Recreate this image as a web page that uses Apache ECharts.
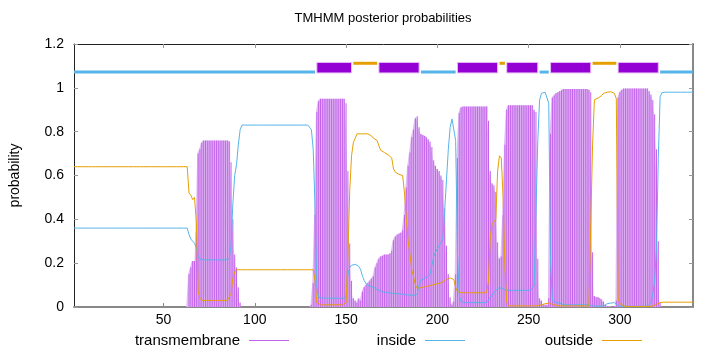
<!DOCTYPE html>
<html>
<head>
<meta charset="utf-8">
<title>TMHMM posterior probabilities</title>
<script src="https://cdn.jsdelivr.net/npm/echarts@6/dist/echarts.min.js"></script>
<style>
  html, body { margin: 0; padding: 0; background: #fff; }
  #chart { width: 720px; height: 352px; }
</style>
</head>
<body>
<div id="chart"></div>
<script>
// residue positions 1..340, one value per residue
var transmembrane = [
  0,0,0,0,0,0,0,0,0,0,
  0,0,0,0,0,0,0,0,0,0,
  0,0,0,0,0,0,0,0,0,0,
  0,0,0,0,0,0,0,0,0,0,
  0,0,0,0,0,0,0,0,0,0,
  0,0,0,0,0,0,0,0,0,0,
  0,0,0,0.15,0.18,0.21,0.21,0.34,0.70,0.72,
  0.75,0.76,0.76,0.76,0.76,0.76,0.76,0.76,0.76,0.76,
  0.76,0.76,0.76,0.76,0.76,0.755,0.66,0.40,0.24,0.18,
  0.09,0.02,0,0,0,0,0,0,0,0,
  0,0,0,0,0,0,0,0,0,0,
  0,0,0,0,0,0,0,0,0,0,
  0,0,0,0,0,0,0,0,0,0,
  0.01,0.11,0.42,0.89,0.94,0.95,0.95,0.95,0.95,0.95,
  0.95,0.95,0.95,0.95,0.95,0.95,0.95,0.95,0.95,0.93,
  0.62,0.29,0.12,0.04,0.03,0.02,0.04,0.03,0.07,0.09,
  0.10,0.11,0.12,0.13,0.14,0.18,0.20,0.22,0.23,0.235,
  0.24,0.24,0.24,0.245,0.255,0.305,0.32,0.33,0.335,0.34,
  0.35,0.42,0.545,0.645,0.705,0.775,0.81,0.86,0.87,0.82,
  0.79,0.785,0.78,0.775,0.765,0.755,0.73,0.67,0.645,0.63,
  0.62,0.60,0.58,0.45,0.28,0.15,0.045,0.01,0.025,0.15,
  0.68,0.885,0.91,0.915,0.915,0.915,0.915,0.915,0.915,0.915,
  0.915,0.915,0.915,0.915,0.915,0.915,0.915,0.85,0.62,0.565,
  0.555,0.525,0.295,0.22,0.23,0.42,0.74,0.90,0.92,0.92,
  0.92,0.92,0.92,0.92,0.92,0.92,0.92,0.92,0.92,0.92,
  0.92,0.92,0.90,0.89,0.22,0.04,0.03,0.01,0.01,0.01,
  0.04,0.79,0.955,0.965,0.975,0.98,0.985,0.99,0.995,0.995,
  0.995,0.995,0.995,0.995,0.995,0.995,0.995,0.995,0.995,0.995,
  0.995,0.995,0.99,0.98,0.25,0.05,0.045,0.045,0.04,0.035,
  0.025,0.01,0.005,0.003,0,0,0.005,0.03,0.955,0.98,
  0.99,0.997,0.997,0.997,0.997,0.997,0.997,0.997,0.997,0.997,
  0.997,0.997,0.997,0.997,0.997,0.985,0.97,0.945,0.88,0.72,
  0.30,0.02,0,0,0,0,0,0,0,0,
  0,0,0,0,0,0,0,0,0,0
];
var inside = [
  0.36,0.36,0.36,0.36,0.36,0.36,0.36,0.36,0.36,0.36,
  0.36,0.36,0.36,0.36,0.36,0.36,0.36,0.36,0.36,0.36,
  0.36,0.36,0.36,0.36,0.36,0.36,0.36,0.36,0.36,0.36,
  0.36,0.36,0.36,0.36,0.36,0.36,0.36,0.36,0.36,0.36,
  0.36,0.36,0.36,0.36,0.36,0.36,0.36,0.36,0.36,0.36,
  0.36,0.36,0.36,0.36,0.36,0.36,0.36,0.36,0.36,0.36,
  0.36,0.36,0.36,0.33,0.31,0.30,0.29,0.27,0.23,0.22,
  0.215,0.215,0.215,0.215,0.215,0.215,0.215,0.215,0.215,0.215,
  0.215,0.215,0.215,0.215,0.215,0.22,0.28,0.47,0.60,0.65,
  0.74,0.81,0.83,0.83,0.83,0.83,0.83,0.83,0.83,0.83,
  0.83,0.83,0.83,0.83,0.83,0.83,0.83,0.83,0.83,0.83,
  0.83,0.83,0.83,0.83,0.83,0.83,0.83,0.83,0.83,0.83,
  0.83,0.83,0.83,0.83,0.83,0.83,0.83,0.83,0.83,0.83,
  0.81,0.72,0.46,0.09,0.045,0.04,0.04,0.04,0.04,0.04,
  0.04,0.04,0.04,0.04,0.04,0.04,0.04,0.04,0.04,0.05,
  0.15,0.18,0.19,0.195,0.195,0.19,0.185,0.17,0.14,0.12,
  0.105,0.10,0.095,0.09,0.09,0.085,0.08,0.075,0.072,0.07,
  0.068,0.065,0.065,0.064,0.063,0.062,0.061,0.06,0.06,0.06,
  0.058,0.056,0.055,0.055,0.055,0.053,0.052,0.052,0.06,0.10,
  0.122,0.125,0.13,0.135,0.14,0.15,0.19,0.23,0.25,0.265,
  0.28,0.295,0.31,0.44,0.58,0.72,0.82,0.858,0.85,0.76,
  0.25,0.05,0.025,0.02,0.02,0.02,0.02,0.02,0.02,0.02,
  0.02,0.02,0.02,0.02,0.02,0.02,0.02,0.025,0.045,0.055,
  0.06,0.075,0.085,0.09,0.088,0.082,0.078,0.076,0.076,0.076,
  0.076,0.076,0.076,0.076,0.076,0.076,0.076,0.076,0.076,0.076,
  0.076,0.08,0.10,0.10,0.76,0.945,0.975,0.98,0.98,0.98,
  0.93,0.20,0.03,0.025,0.02,0.02,0.018,0.015,0.01,0.01,
  0.01,0.01,0.01,0.01,0.01,0.01,0.01,0.01,0.01,0.01,
  0.01,0.01,0.01,0.01,0.005,0.004,0.004,0.004,0.004,0.004,
  0.004,0.012,0.015,0.017,0.018,0.02,0.02,0.02,0.005,0.004,
  0.003,0.003,0.003,0.003,0.003,0.003,0.003,0.003,0.003,0.003,
  0.003,0.003,0.003,0.003,0.003,0.005,0.02,0.06,0.12,0.27,
  0.68,0.96,0.978,0.98,0.98,0.98,0.98,0.98,0.98,0.98,
  0.98,0.98,0.98,0.98,0.98,0.98,0.98,0.98,0.98,0.98
];
var outside = [
  0.64,0.64,0.64,0.64,0.64,0.64,0.64,0.64,0.64,0.64,
  0.64,0.64,0.64,0.64,0.64,0.64,0.64,0.64,0.64,0.64,
  0.64,0.64,0.64,0.64,0.64,0.64,0.64,0.64,0.64,0.64,
  0.64,0.64,0.64,0.64,0.64,0.64,0.64,0.64,0.64,0.64,
  0.64,0.64,0.64,0.64,0.64,0.64,0.64,0.64,0.64,0.64,
  0.64,0.64,0.64,0.64,0.64,0.64,0.64,0.64,0.64,0.64,
  0.64,0.64,0.64,0.52,0.51,0.49,0.50,0.39,0.07,0.04,
  0.03,0.03,0.03,0.03,0.03,0.03,0.03,0.03,0.03,0.03,
  0.03,0.03,0.03,0.03,0.03,0.03,0.06,0.13,0.16,0.17,
  0.17,0.17,0.17,0.17,0.17,0.17,0.17,0.17,0.17,0.17,
  0.17,0.17,0.17,0.17,0.17,0.17,0.17,0.17,0.17,0.17,
  0.17,0.17,0.17,0.17,0.17,0.17,0.17,0.17,0.17,0.17,
  0.17,0.17,0.17,0.17,0.17,0.17,0.17,0.17,0.17,0.17,
  0.17,0.17,0.12,0.02,0.015,0.01,0.01,0.01,0.01,0.01,
  0.01,0.01,0.01,0.01,0.01,0.01,0.01,0.01,0.01,0.02,
  0.23,0.53,0.69,0.75,0.77,0.79,0.79,0.79,0.79,0.79,
  0.79,0.79,0.785,0.78,0.77,0.77,0.76,0.735,0.715,0.71,
  0.705,0.70,0.695,0.69,0.68,0.63,0.615,0.61,0.605,0.61,
  0.60,0.52,0.40,0.30,0.24,0.17,0.137,0.10,0.085,0.085,
  0.088,0.09,0.092,0.094,0.096,0.098,0.10,0.102,0.104,0.106,
  0.108,0.11,0.114,0.12,0.125,0.13,0.133,0.135,0.125,0.09,
  0.07,0.065,0.065,0.065,0.065,0.065,0.065,0.065,0.065,0.065,
  0.065,0.065,0.065,0.065,0.065,0.065,0.065,0.12,0.32,0.38,
  0.385,0.40,0.62,0.69,0.68,0.50,0.18,0.02,0.005,0.005,
  0.005,0.005,0.005,0.005,0.005,0.005,0.005,0.005,0.005,0.005,
  0.005,0.005,0.005,0.005,0.005,0.005,0.01,0.015,0.015,0.018,
  0.018,0.015,0.012,0.01,0.008,0.006,0.005,0.005,0.005,0.005,
  0.005,0.005,0.005,0.005,0.005,0.005,0.005,0.005,0.005,0.005,
  0.005,0.005,0.005,0.01,0.74,0.946,0.95,0.953,0.958,0.965,
  0.975,0.978,0.98,0.982,0.982,0.98,0.975,0.95,0.04,0.015,
  0.008,0.005,0.002,0.002,0.002,0.002,0.002,0.002,0.002,0.002,
  0.002,0.002,0.002,0.002,0.002,0.002,0.003,0.005,0.008,0.012,
  0.016,0.02,0.022,0.022,0.022,0.022,0.022,0.022,0.022,0.022,
  0.022,0.022,0.022,0.022,0.022,0.022,0.022,0.022,0.022,0.022
];

// predicted topology drawn above the curves
var segStart = [1, 134, 154, 168, 191, 211, 234, 238, 256, 262, 285, 299, 322];
var segEnd   = [133, 153, 167, 190, 210, 233, 237, 255, 261, 284, 298, 321, 340];
var segType  = ['inside', 'TMhelix', 'outside', 'TMhelix', 'inside', 'TMhelix', 'outside',
                'TMhelix', 'inside', 'TMhelix', 'outside', 'TMhelix', 'inside'];

var xTicks = [50, 100, 150, 200, 250, 300];

var FONT = 'Liberation Sans, Arial, sans-serif';
var C_TM = '#9400d3';
var C_IN = '#56b4e9';
var C_OUT = '#e69f00';

function pairs (arr) {
  return arr.map(function (v, i) { return [i + 1, v]; });
}

var segData = segStart.map(function (s, i) {
  return [s, segEnd[i], ['TMhelix', 'inside', 'outside'].indexOf(segType[i])];
});

var chart = echarts.init(document.getElementById('chart'), null, {renderer: 'canvas'});

var option = {
  animation: false,
  backgroundColor: '#fff',
  textStyle: {fontFamily: FONT},
  title: {
    text: 'TMHMM posterior probabilities',
    left: 383,
    textAlign: 'center',
    top: 12,
    padding: 0,
    textStyle: {fontFamily: FONT, fontSize: 13, fontWeight: 'normal', color: '#000'}
  },
  grid: {left: 73, right: 27, top: 44, bottom: 45, containLabel: false},
  legend: [
    {data: ['transmembrane'], right: 431},
    {data: ['inside'], right: 255},
    {data: ['outside'], right: 78}
  ].map(function (l) {
    l.top = 333;
    l.padding = 0;
    l.align = 'right';
    l.icon = 'rect';
    l.itemWidth = 40;
    l.itemHeight = 1;
    l.itemGap = 0;
    l.selectedMode = false;
    l.textStyle = {fontFamily: FONT, fontSize: 15, color: '#000', padding: [0, 4, 0, 0]};
    return l;
  }),
  xAxis: [
    {
      type: 'value', min: 1, max: 340, position: 'bottom',
      axisLine: {onZero: false, lineStyle: {color: '#888', width: 2}},
      axisTick: {inside: true, length: 4, customValues: xTicks, lineStyle: {color: '#888'}},
      axisLabel: {customValues: xTicks, margin: 6, fontFamily: FONT, fontSize: 14, color: '#000'},
      splitLine: {show: false}
    },
    {
      type: 'value', min: 1, max: 340, position: 'top',
      axisLine: {onZero: false, lineStyle: {color: '#222', width: 1}},
      axisTick: {inside: true, length: 4, customValues: xTicks, lineStyle: {color: '#999'}},
      axisLabel: {show: false},
      splitLine: {show: false}
    }
  ],
  yAxis: [
    {
      type: 'value', min: 0, max: 1.2, interval: 0.2, position: 'left',
      name: 'probability', nameLocation: 'middle', nameGap: 52,
      nameTextStyle: {fontFamily: FONT, fontSize: 14, color: '#000'},
      axisLine: {show: true, onZero: false, lineStyle: {color: '#222', width: 1}},
      axisTick: {show: true, inside: true, length: 4, lineStyle: {color: '#999'}},
      axisLabel: {margin: 10, fontFamily: FONT, fontSize: 14, color: '#000'},
      splitLine: {show: false}
    },
    {
      type: 'value', min: 0, max: 1.2, interval: 0.2, position: 'right',
      axisLine: {show: true, onZero: false, lineStyle: {color: '#888', width: 2}},
      axisTick: {show: true, inside: true, length: 4, lineStyle: {color: '#999'}},
      axisLabel: {show: false},
      splitLine: {show: false}
    }
  ],
  series: [
    // light envelope under the impulses
    {
      name: 'tmFill',
      type: 'line',
      step: 'middle',
      symbol: 'none',
      data: pairs(transmembrane),
      lineStyle: {width: 0},
      itemStyle: {color: '#e2bdf4'},
      areaStyle: {color: '#e2bdf4', opacity: 1},
      silent: true,
      z: 1
    },
    {
      name: 'transmembrane',
      type: 'bar',
      barWidth: 1,
      data: pairs(transmembrane),
      itemStyle: {color: '#c263ea'},
      z: 2
    },
    {
      name: 'inside',
      type: 'line',
      symbol: 'none',
      data: pairs(inside),
      lineStyle: {color: C_IN, width: 1},
      itemStyle: {color: C_IN},
      z: 3
    },
    {
      name: 'outside',
      type: 'line',
      symbol: 'none',
      data: pairs(outside),
      lineStyle: {color: C_OUT, width: 1},
      itemStyle: {color: C_OUT},
      z: 3
    },
    {
      name: 'topology',
      type: 'custom',
      data: segData,
      encode: {x: [0, 1], y: 2},
      clip: false,
      z: 4,
      renderItem: function (params, api) {
        var s = api.value(0);
        var e = api.value(1);
        var t = api.value(2);
        if (t === 0) {
          var p1 = api.coord([s, 1.116]);
          var p2 = api.coord([e, 1.068]);
          return {
            type: 'rect',
            shape: {x: p1[0], y: p1[1], width: p2[0] - p1[0], height: p2[1] - p1[1]},
            style: {fill: C_TM, stroke: '#e6bdf7', lineWidth: 1}
          };
        }
        var y = t === 1 ? 1.072 : 1.112;
        var a = api.coord([s, y]);
        var b = api.coord([e, y]);
        return {
          type: 'line',
          shape: {x1: a[0], y1: a[1], x2: b[0], y2: b[1]},
          style: {stroke: t === 1 ? C_IN : C_OUT, lineWidth: 3}
        };
      }
    }
  ]
};

chart.setOption(option);
</script>
</body>
</html>
